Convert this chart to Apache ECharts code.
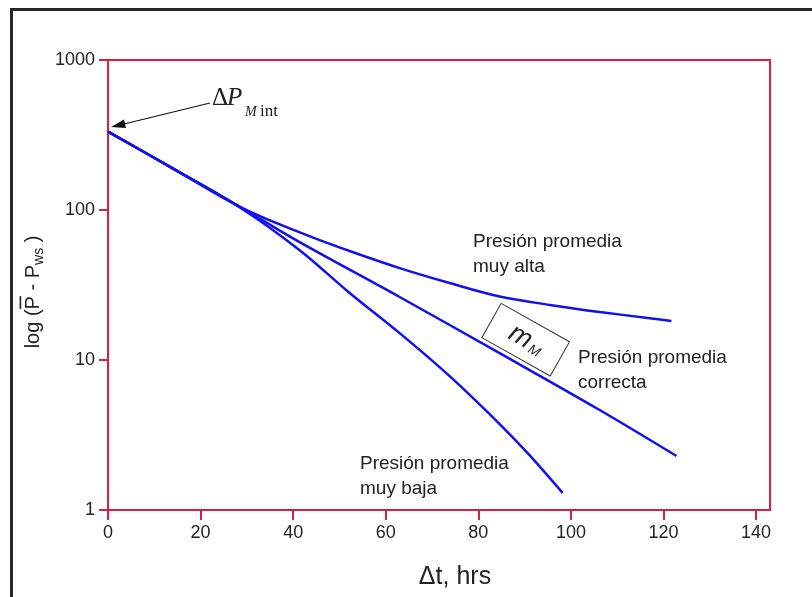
<!DOCTYPE html>
<html>
<head>
<meta charset="utf-8">
<script src="https://cdn.jsdelivr.net/npm/echarts@6/dist/echarts.min.js"></script>
<style>html,body{margin:0;padding:0;background:#fff}#c{width:812px;height:597px}</style>
</head>
<body>
<div id="c"></div>
<script>
// ---- data ----
const xTickValues = [0, 20, 40, 60, 80, 100, 120, 140];
const yTickValues = [1, 10, 100, 1000];

const tAlta  = [0, 13.4, 28.5, 41.4, 52.2, 63, 73.8, 84.6, 95.4, 106.2, 117, 121.7];
const vAlta  = [333, 194, 105, 71, 53.3, 41, 32.6, 26.5, 23.3, 20.9, 19.0, 18.2];

const tCorr  = [0, 13.4, 28.5, 41.4, 63, 84.6, 106.2, 122.8];
const vCorr  = [333, 194, 105, 61, 26.3, 11.1, 4.64, 2.29];

const tBaja  = [0, 13.4, 28.5, 41.4, 52.2, 63, 73.8, 84.6, 91, 98.2];
const vBaja  = [333, 194, 104, 54, 28, 15.1, 7.8, 3.74, 2.33, 1.30];

const lblAlta = ['Presión promedia', 'muy alta'];
const lblCorr = ['Presión promedia', 'correcta'];
const lblBaja = ['Presión promedia', 'muy baja'];

// ---- chart ----
const RED = '#dc1e46';
const BLUE = '#1010f0';
const TXT = '#222';
const SANS = '"Liberation Sans", Arial, sans-serif';
const SERIF = '"Liberation Serif", "Times New Roman", serif';

function pairs(t, v) { return t.map((x, i) => [x, v[i]]); }

const chart = echarts.init(document.getElementById('c'), null, {renderer: 'canvas'});

// measure widths for y-axis title pieces
const cv = document.createElement('canvas').getContext('2d');
function w(str, size) { cv.font = size + 'px ' + SANS; return cv.measureText(str).width; }
const YF = 20, YS = 14;
const parts = [
  {t: 'log (', s: YF, base: 0},
  {t: 'P', s: YF, base: 0, bar: true},
  {t: ' - P', s: YF, base: 0},
  {t: 'ws', s: YS, base: 4},
  {t: ' )', s: YF, base: 0}
];
let total = 0; parts.forEach(p => { p.w = w(p.t, p.s); total += p.w; });
let cx = -total / 2;
const yTitleChildren = [];
parts.forEach(p => {
  yTitleChildren.push({type: 'text', x: cx, y: p.base - 0.35 * p.s, style: {text: p.t, font: p.s + 'px ' + SANS, fill: TXT, align: 'left', verticalAlign: 'middle'}});
  if (p.bar) {
    yTitleChildren.push({type: 'line', shape: {x1: cx + 0.5, y1: -YF * 0.98, x2: cx + p.w, y2: -YF * 0.98}, style: {stroke: TXT, lineWidth: 1.6}});
  }
  cx += p.w;
});

function label2(x, y, lines) {
  return {type: 'text', x: x, y: y, style: {text: lines.join('\n'), font: '19px ' + SANS, fill: TXT, lineHeight: 25, align: 'left', verticalAlign: 'top'}};
}

const option = {
  animation: false,
  grid: {left: 108, right: 42, top: 60, bottom: 87, show: true, borderColor: RED, borderWidth: 2, outerBoundsMode: 'none', containLabel: false},
  xAxis: {
    type: 'value', min: 0, max: 143, interval: 20,
    axisLine: {show: true, onZero: false, lineStyle: {color: RED, width: 2}},
    axisTick: {show: true, inside: false, length: 10, lineStyle: {color: RED, width: 2}, customValues: xTickValues},
    axisLabel: {color: TXT, fontSize: 18, fontFamily: SANS, margin: 14, customValues: xTickValues},
    splitLine: {show: false}
  },
  yAxis: {
    type: 'log', logBase: 10, min: 1, max: 1000,
    axisLine: {show: true, lineStyle: {color: RED, width: 2}},
    axisTick: {show: true, inside: false, length: 9, lineStyle: {color: RED, width: 2}},
    minorTick: {show: false},
    axisLabel: {color: TXT, fontSize: 18, fontFamily: SANS, margin: 13, formatter: v => String(Math.round(v))},
    splitLine: {show: false}
  },
  series: [
    {type: 'line', data: pairs(tAlta, vAlta), showSymbol: false, smooth: 0.35, lineStyle: {color: BLUE, width: 2.5}},
    {type: 'line', data: pairs(tCorr, vCorr), showSymbol: false, smooth: 0.35, lineStyle: {color: BLUE, width: 2.5}},
    {type: 'line', data: pairs(tBaja, vBaja), showSymbol: false, smooth: 0.35, lineStyle: {color: BLUE, width: 2.5}}
  ],
  graphic: [
    // outer dark frame (left + top)
    {type: 'line', shape: {x1: 11.5, y1: 8, x2: 11.5, y2: 597}, style: {stroke: '#26262e', lineWidth: 3}},
    {type: 'line', shape: {x1: 10, y1: 9.5, x2: 812, y2: 9.5}, style: {stroke: '#26262e', lineWidth: 3}},
    // ΔP_M int annotation
    {type: 'text', x: 212, y: 98, style: {text: 'Δ', font: '25px ' + SERIF, fill: TXT, align: 'left', verticalAlign: 'middle'}},
    {type: 'text', x: 227, y: 98, style: {text: 'P', font: 'italic 25px ' + SERIF, fill: TXT, align: 'left', verticalAlign: 'middle'}},
    {type: 'text', x: 245, y: 112, style: {text: 'M', font: 'italic 14px ' + SERIF, fill: TXT, align: 'left', verticalAlign: 'middle'}},
    {type: 'text', x: 260, y: 111.5, style: {text: 'int', font: '17px ' + SERIF, fill: TXT, align: 'left', verticalAlign: 'middle'}},
    {type: 'line', shape: {x1: 210, y1: 103, x2: 122, y2: 124.5}, style: {stroke: '#111', lineWidth: 1.2}},
    {type: 'polygon', shape: {points: [[111, 127], [124, 119.5], [126, 128]]}, style: {fill: '#111'}},
    // curve labels
    label2(473, 229, lblAlta),
    label2(578, 345, lblCorr),
    label2(360, 451, lblBaja),
    // rotated m_M box
    {type: 'group', x: 525.7, y: 339.6, rotation: -29.3 * Math.PI / 180, children: [
      {type: 'rect', shape: {x: -39.2, y: -19.6, width: 78.4, height: 39.3}, style: {fill: 'none', stroke: '#333', lineWidth: 1}},
      {type: 'text', x: -6, y: 0, style: {text: 'm', font: 'italic 27px ' + SANS, fill: TXT, align: 'center', verticalAlign: 'middle'}},
      {type: 'text', x: 13, y: 6, style: {text: 'M', font: 'italic 14px ' + SANS, fill: TXT, align: 'center', verticalAlign: 'middle'}}
    ]},
    // axis titles
    {type: 'text', x: 455, y: 577, style: {text: 'Δt, hrs', font: '25px ' + SANS, fill: TXT, align: 'center', verticalAlign: 'middle'}},
    {type: 'group', x: 40, y: 292, rotation: Math.PI / 2, children: yTitleChildren}
  ]
};
chart.setOption(option);
</script>
</body>
</html>
